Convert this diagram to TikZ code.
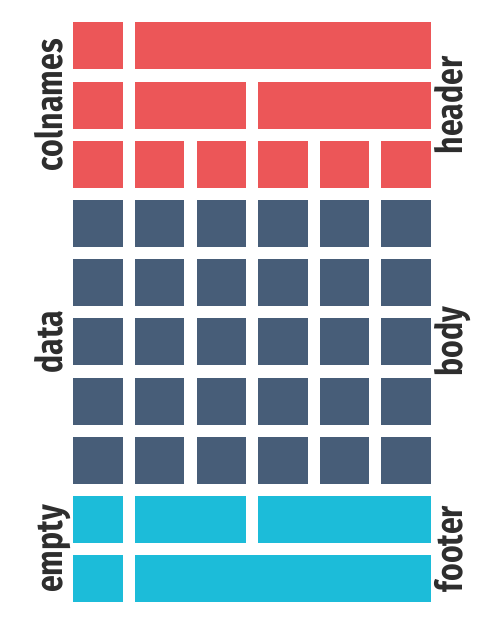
\documentclass[tikz,border=0pt]{standalone}
\usepackage{fontspec}
\usepackage{tikz}
\usetikzlibrary{positioning}
\newfontfamily\lblfont{Fira Sans}[FakeStretch=0.82]
\definecolor{headc}{HTML}{EC5658}
\definecolor{bodyc}{HTML}{475D78}
\definecolor{footc}{HTML}{1CBCD9}
\definecolor{ink}{HTML}{2E2E2E}
\tikzset{
  cell/.style={inner sep=0pt,outer sep=0pt,minimum height=47pt,minimum width=49.4pt},
  hc/.style={cell,fill=headc},
  bc/.style={cell,fill=bodyc},
  fc/.style={cell,fill=footc},
  span2/.style={minimum width=111pt},
  span3/.style={minimum width=172.6pt},
  span5/.style={minimum width=295.8pt},
  lbl/.style={rotate=90,anchor=base,inner sep=0pt,text=ink,
    font=\lblfont\bfseries\fontsize{37}{40}\selectfont},
  node distance=12.2pt
}
\begin{document}
\begin{tikzpicture}[x=1pt,y=-1pt]
  \useasboundingbox (0,0) rectangle (500,625);
  % header
  \node[hc] (h11) at (98,45.8) {};
  \node[hc,span5,right=of h11] (h12) {};
  \node[hc,below=of h11] (h21) {};
  \node[hc,span2,right=of h21] (h22) {};
  \node[hc,span3,right=of h22] (h23) {};
  \node[hc,below=of h21] (h31) {};
  \node[hc,right=of h31] (h32) {};
  \node[hc,right=of h32] (h33) {};
  \node[hc,right=of h33] (h34) {};
  \node[hc,right=of h34] (h35) {};
  \node[hc,right=of h35] (h36) {};
  % body
  \foreach \r in {1,...,5}
    \foreach \c in {1,...,6}
      \node[bc] (b\r\c) at ({98+61.6*(\c-1)},{45.8+59.2*(\r+2)}) {};
  % footer
  \node[fc,below=of b51] (f11) {};
  \node[fc,span2,right=of f11] (f12) {};
  \node[fc,span3,right=of f12] (f13) {};
  \node[fc,below=of f11] (f21) {};
  \node[fc,span5,right=of f21] (f22) {};
  % labels
  \node[lbl] (colnames) at (62.3,105.2) {colnames};
  \node[lbl] (data) at (62.3,341.8) {data};
  \node[lbl] (empty) at (62.3,549) {empty};
  \node[lbl] (header) at (462,105.2) {header};
  \node[lbl] (body) at (462,341.8) {body};
  \node[lbl] (footer) at (462,549) {footer};
\end{tikzpicture}
\end{document}
